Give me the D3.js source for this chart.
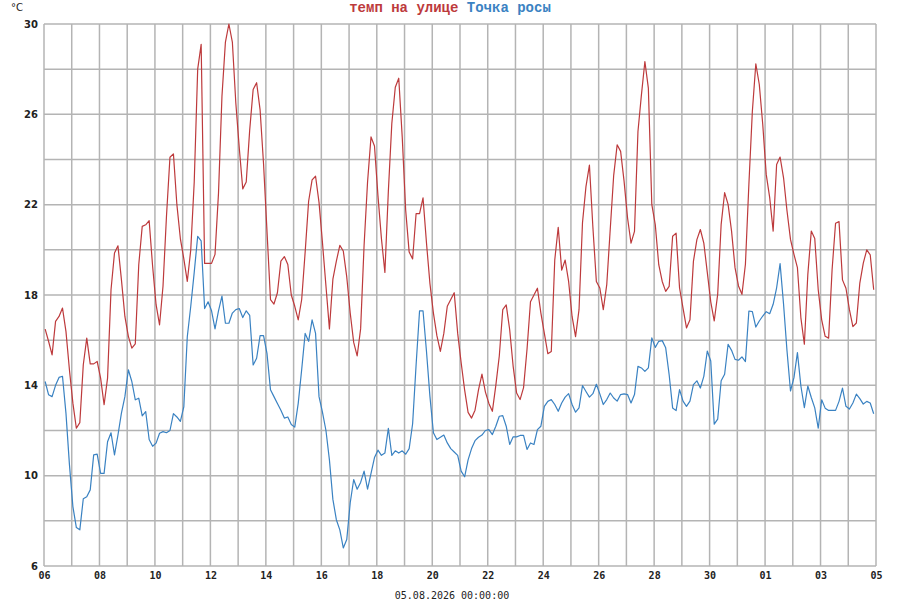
<!DOCTYPE html>
<html>
<head>
<meta charset="utf-8">
<script src="https://cdn.jsdelivr.net/npm/d3@7"></script>
<style>
  body { margin: 0; background: #fff; }
  svg { display: block; }
</style>
</head>
<body>
<svg id="chart" width="900" height="600"></svg>
<script>
// 3-hourly readings, 06.07.2026 .. 05.08.2026
const startTime = new Date(2026, 6, 6, 1, 0);
const stepHours = 3;

const tempOutside = [
  16.49, 15.94, 15.35, 16.83, 17.05, 17.42, 16.39, 14.69, 13.21, 12.1,
  12.35, 14.91, 16.09, 14.95, 14.95, 15.06, 14.32, 13.14, 14.32, 18.23,
  19.86, 20.18, 18.68, 17.05, 16.17, 15.65, 15.84, 19.34, 21.04, 21.11,
  21.29, 19.27, 17.57, 16.68, 18.4, 21.5, 24.1, 24.25, 22.0, 20.5,
  19.6, 18.6, 20.0, 23.0, 28.0, 29.1, 19.4, 19.4, 19.4, 19.8,
  22.5, 26.8, 29.2, 30.0, 29.2, 26.5, 24.5, 22.7, 23.0, 25.3,
  27.1, 27.4, 26.2, 23.8, 20.8, 17.8, 17.6, 18.1, 19.5, 19.7,
  19.35, 18.0, 17.5, 16.9, 17.8, 19.9, 22.15, 23.1, 23.26, 22.1,
  20.3, 18.4, 16.5, 18.7, 19.5, 20.2, 19.95, 18.8, 17.2, 15.9,
  15.3, 16.5, 20.2, 23.0, 25.0, 24.6, 22.4, 20.5, 19.0, 22.6,
  25.6, 27.2, 27.6, 25.0, 21.75, 19.9, 19.6, 21.6, 21.6, 22.3,
  20.3, 18.5, 17.2, 16.2, 15.5, 16.3, 17.5, 17.8, 18.1, 16.3,
  15.0, 13.8, 12.8, 12.55, 12.9, 13.8, 14.5, 13.7, 13.2, 12.85,
  14.0, 15.3, 17.35, 17.56, 16.46, 14.84, 13.66, 13.37, 13.9, 15.6,
  17.7, 18.0, 18.3, 17.2, 16.3, 15.4, 15.5, 19.55, 21.0, 19.1,
  19.55, 18.6, 17.05, 16.16, 17.35, 21.2, 22.8, 23.75, 21.0, 18.6,
  18.31, 17.35, 18.46, 20.9, 23.3, 24.65, 24.36, 23.03, 21.41, 20.3,
  20.82, 25.24, 26.86, 28.34, 27.16, 22.0, 21.11, 19.34, 18.6, 18.16,
  18.38, 20.6, 20.74, 18.31, 17.42, 16.54, 16.9, 19.49, 20.45, 20.9,
  20.3, 19.0, 17.7, 16.85, 18.03, 21.13, 22.53, 22.01, 20.83, 19.21,
  18.4, 18.03, 19.36, 22.9, 26.14, 28.24, 27.32, 25.55, 23.34, 22.31,
  20.83, 23.78, 24.11, 23.19, 21.72, 20.46, 19.8, 19.21, 16.99, 15.82,
  18.91, 20.83, 20.5, 18.23, 16.9, 16.17, 16.09, 19.12, 21.18, 21.25,
  18.67, 18.3, 17.35, 16.6, 16.76, 18.53, 19.41, 20.0, 19.78, 18.23
];

const dewPoint = [
  14.17, 13.58, 13.5, 14.0, 14.35, 14.4, 12.77, 10.5, 8.63, 7.7,
  7.6, 8.98, 9.07, 9.37, 10.92, 10.95, 10.1, 10.1, 11.5, 11.9,
  10.92, 11.8, 12.77, 13.5, 14.69, 14.17, 13.36, 13.43, 12.65, 12.84,
  11.6, 11.3, 11.44, 11.88, 11.95, 11.9, 12.0, 12.75, 12.6, 12.4,
  13.05, 16.15, 17.5, 19.0, 20.6, 20.4, 17.4, 17.7, 17.3, 16.5,
  17.3, 17.95, 16.75, 16.75, 17.2, 17.35, 17.4, 17.0, 17.3, 17.1,
  14.9, 15.2, 16.2, 16.2, 15.4, 13.8, 13.5, 13.2, 12.9, 12.55,
  12.6, 12.27, 12.15, 13.2, 14.7, 16.3, 15.95, 16.9, 16.3, 13.5,
  12.8, 12.0, 10.7, 8.95, 8.05, 7.6, 6.8, 7.17, 8.8, 9.83,
  9.4, 9.7, 10.2, 9.4, 10.1, 10.8, 11.13, 10.9, 11.0, 12.1,
  10.9, 11.1, 11.0, 11.1, 10.95, 11.2, 12.3, 14.9, 17.3, 17.3,
  15.5, 13.5, 11.9, 11.6, 11.7, 11.8, 11.45, 11.2, 11.05, 10.9,
  10.2, 9.95, 10.7, 11.2, 11.55, 11.7, 11.8, 12.0, 12.04, 11.82,
  12.19, 12.63, 12.66, 12.19, 11.38, 11.72, 11.72, 11.78, 11.78, 11.16,
  11.45, 11.38, 12.04, 12.19, 13.07, 13.29, 13.37, 13.15, 12.85, 13.22,
  13.48, 13.63, 13.15, 12.81, 13.0, 13.99, 13.73, 13.48, 13.63, 14.05,
  13.62, 13.15, 13.37, 13.66, 13.44, 13.3, 13.59, 13.62, 13.59, 13.22,
  13.59, 14.84, 14.77, 14.62, 14.77, 16.1, 15.68, 15.95, 15.98, 15.66,
  14.47, 13.0, 12.88, 13.81, 13.3, 13.07, 13.3, 14.03, 14.2, 13.88,
  14.4, 15.52, 15.08, 12.28, 12.5, 14.2, 14.49, 15.82, 15.55, 15.15,
  15.11, 15.26, 15.05, 17.29, 17.26, 16.58, 16.85, 17.07, 17.26, 17.17,
  17.59, 18.32, 19.39, 17.59, 15.52, 13.75, 14.34, 15.45, 13.97, 13.01,
  13.97, 13.46, 13.0, 12.1, 13.36, 12.99, 12.89, 12.89, 12.89, 13.29,
  13.88, 13.07, 12.95, 13.22, 13.61, 13.41, 13.17, 13.29, 13.22, 12.74
];

const seriesNames = ["темп на улице", "Точка росы"];
const yTickLabels = [6, 10, 14, 18, 22, 26, 30];
const xDomain = [new Date(2026, 6, 6), new Date(2026, 7, 5)];
const footerLabel = "05.08.2026 00:00:00";

const margin = {left: 44, right: 24, top: 24, bottom: 34};
const width = 900 - margin.left - margin.right;
const height = 600 - margin.top - margin.bottom;
const gridColor = "#b4b4b4";
const colors = ["#bd3a3c", "#3a82c2"];

const times = tempOutside.map((d, i) => new Date(startTime.getTime() + i * stepHours * 3600e3));

const xScale = d3.scaleTime().domain(xDomain).range([0, width]);
const yScale = d3.scaleLinear().domain([6, 30]).range([height, 0]);

const svg = d3.select("#chart");
const g = svg.append("g")
    .attr("transform", `translate(${margin.left}, ${margin.top})`);

// grid: every 2 degrees, every day
g.append("g").selectAll("line")
    .data(d3.range(6, 31, 2))
    .join("line")
    .attr("x1", 0).attr("x2", width)
    .attr("y1", d => yScale(d)).attr("y2", d => yScale(d))
    .attr("stroke", gridColor).attr("stroke-width", 1.5);

g.append("g").selectAll("line")
    .data(d3.timeDay.range(xDomain[0], d3.timeDay.offset(xDomain[1], 1)))
    .join("line")
    .attr("x1", d => xScale(d)).attr("x2", d => xScale(d))
    .attr("y1", 0).attr("y2", height)
    .attr("stroke", gridColor).attr("stroke-width", 1.5);

// axes
const xAxis = d3.axisBottom(xScale)
    .tickValues(d3.timeDay.range(xDomain[0], d3.timeDay.offset(xDomain[1], 1), 2))
    .tickFormat(d3.timeFormat("%d"))
    .tickSize(0).tickPadding(6);
const xg = g.append("g")
    .attr("transform", `translate(0, ${height})`)
    .call(xAxis);
xg.select(".domain").remove();
xg.selectAll("text")
    .attr("font-family", "'DejaVu Sans Mono', monospace")
    .attr("font-weight", "bold")
    .attr("font-size", 10)
    .attr("fill", "#222");

const yAxis = d3.axisLeft(yScale)
    .tickValues(yTickLabels)
    .tickSize(0).tickPadding(6);
const yg = g.append("g").call(yAxis);
yg.select(".domain").remove();
yg.selectAll("text")
    .attr("font-family", "'DejaVu Sans', sans-serif")
    .attr("font-weight", "bold")
    .attr("font-size", 10)
    .attr("fill", "#222");

// lines
const line = d3.line()
    .x((d, i) => xScale(times[i]))
    .y(d => yScale(d));

[tempOutside, dewPoint].forEach((series, k) => {
    g.append("path")
        .datum(series)
        .attr("d", line)
        .attr("fill", "none")
        .attr("stroke", colors[k])
        .attr("stroke-width", 1.2)
        .attr("stroke-linejoin", "round");
});

// title / legend
const title = svg.append("text")
    .attr("x", 450)
    .attr("y", 12)
    .attr("text-anchor", "middle")
    .attr("font-family", "'Liberation Mono', 'Courier New', monospace")
    .attr("font-weight", "bold")
    .attr("font-size", 14);
seriesNames.forEach((name, k) => {
    title.append("tspan")
        .text((k ? " " : "") + name)
        .attr("fill", colors[k]);
});

svg.append("text")
    .text("°C")
    .attr("x", 11)
    .attr("y", 11)
    .attr("font-family", "'DejaVu Sans', sans-serif")
    .attr("font-size", 10)
    .attr("fill", "#222");

svg.append("text")
    .text(footerLabel)
    .attr("x", 452)
    .attr("y", 599)
    .attr("text-anchor", "middle")
    .attr("font-family", "'DejaVu Sans Mono', monospace")
    .attr("font-size", 10)
    .attr("fill", "#222");
</script>
</body>
</html>
